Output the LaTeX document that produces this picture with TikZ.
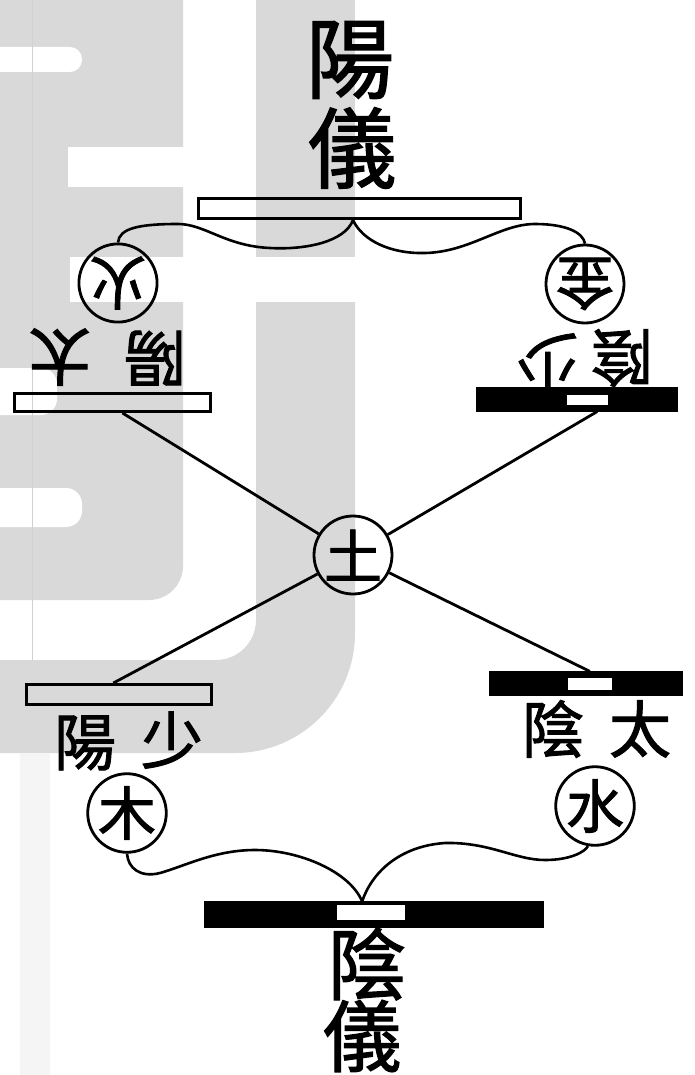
\documentclass[tikz,border=0pt]{standalone}
\usepackage{fontspec}
\usepackage{graphicx}
\newfontfamily\cjk{Noto Sans CJK TC}[FakeBold=1.6]
\usetikzlibrary{calc}
\begin{document}
\begin{tikzpicture}[x=0.5pt,y=-0.5pt,
  wm/.style={fill=black!15,draw=none},
  wmcut/.style={fill=white,draw=none},
  wbar/.style={draw=black,line width=1.5pt,fill=none,inner sep=0pt,rectangle},
  bbar/.style={fill=black,draw=black,line width=0.6pt,inner sep=0pt,rectangle},
  gapbox/.style={fill=white,draw=none,inner sep=0pt,rectangle},
  elem/.style={draw=black,line width=1.4pt,circle,minimum size=39pt,inner sep=0pt,font=\cjk\fontsize{29}{29}\selectfont},
  lbl/.style={font=\cjk\fontsize{31}{31}\selectfont,inner sep=0pt},
  ttl/.style={font=\cjk\fontsize{44}{44}\selectfont,inner sep=0pt},
  ttlb/.style={font=\cjk\fontsize{39}{39}\selectfont,inner sep=0pt},
  link/.style={line width=1.4pt},
  curve/.style={line width=1.3pt},
]
\useasboundingbox (0,0) rectangle (695,1075);
\fill[white] (0,0) rectangle (695,1075);
% watermark
\begin{scope}
\clip (0,0) rectangle (695,1075);
\fill[wm, rounded corners=17pt] (-60,-60) rectangle (183,600);
\fill[wm] (256,-10) rectangle (355,257);
\fill[wm] (256,302) -- (355,302) -- (355,633) arc[start angle=0,end angle=90,radius=120] -- (-10,753) -- (-10,660) -- (216,660) arc[start angle=90,end angle=0,radius=40] -- cycle;
\fill[wmcut, rounded corners=6pt] (-30,47) rectangle (82,72);
\fill[wmcut] (68,147) rectangle (256,187);
\fill[wmcut] (70,257) rectangle (256,302);
\fill[wmcut, rounded corners=8pt] (-30,368) rectangle (57,415);
\fill[wmcut, rounded corners=8pt] (-30,488) rectangle (82,527);
\fill[black!4] (20,753) rectangle (50,1075);
\draw[black!18, line width=0.5pt] (32,0) -- (32,660);
\end{scope}

% titles
\node[ttl] (yang1) at (350,60) {陽};
\node[ttl] (yang2) at (352,148) {儀};
\node[ttlb] (yin1) at (367,964) {陰};
\node[ttlb] (yin2) at (362,1036) {儀};

% bars
\node[wbar, minimum width=161pt, minimum height=10pt] (bigyang) at (359.5,208.5) {};
\node[wbar, minimum width=98pt, minimum height=9pt] (tlbar) at (112.5,402.5) {};
\node[wbar, minimum width=92.5pt, minimum height=10pt] (llbar) at (119,694.5) {};
\node[bbar, minimum width=100pt, minimum height=11.5pt] (trbar) at (577,399.5) {};
\node[gapbox, minimum width=20.5pt, minimum height=5pt] (trgap) at (587.5,400) {};
\node[bbar, minimum width=96pt, minimum height=11.5pt] (lrbar) at (586,683.5) {};
\node[gapbox, minimum width=22pt, minimum height=6pt] (lrgap) at (590,684) {};
\node[bbar, minimum width=169pt, minimum height=12.5pt] (bigyin) at (374,914.5) {};
\node[gapbox, minimum width=34pt, minimum height=7.5pt] (bigyingap) at (371,912.5) {};

% element circles
\node[elem] (fire) at (118,283) {\rotatebox{180}{火}};
\node[elem] (metal) at (585,284) {\rotatebox{180}{金}};
\node[elem] (earth) at (353,555) {土};
\node[elem] (wood) at (127,813) {木};
\node[elem] (water) at (595,806) {水};

% labels
\node[lbl] (tlA) at (60,357) {\rotatebox{180}{太}};
\node[lbl] (tlB) at (155,358) {\rotatebox{180}{陽}};
\node[lbl] (trA) at (547,362) {\rotatebox{180}{少}};
\node[lbl] (trB) at (622,358) {\rotatebox{180}{陰}};
\node[lbl] (llA) at (85,743) {陽};
\node[lbl] (llB) at (172,740) {少};
\node[lbl] (lrA) at (553,729) {陰};
\node[lbl] (lrB) at (640,729) {太};

% connection points
\coordinate (yangJ) at ($(bigyang.south west)!0.48!(bigyang.south east)$);
\coordinate (yinJ) at ($(bigyin.north west)!0.465!(bigyin.north east)$);
\coordinate (tlFoot) at ($(tlbar.south west)!0.55!(tlbar.south east)$);
\coordinate (trFoot) at ($(trbar.south west)!0.6!(trbar.south east)$);
\coordinate (llTop) at ($(llbar.north west)!0.47!(llbar.north east)$);
\coordinate (lrTop) at ($(lrbar.north west)!0.52!(lrbar.north east)$);

% curves
\draw[curve] (yangJ) .. controls (345,242) and (305,250) .. (270,248) .. controls (225,246) and (205,224) .. (178,224) .. controls (140,224) and (119,228) .. (fire.north);
\draw[curve] (yangJ) .. controls (362,240) and (390,254) .. (425,253) .. controls (470,252) and (500,224) .. (535,224) .. controls (565,224) and (583,232) .. (metal.north);
\draw[curve] (yinJ) .. controls (350,872) and (300,850) .. (255,850) .. controls (215,850) and (185,866) .. (160,873) .. controls (140,878) and (128,868) .. (wood.south);
\draw[curve] (yinJ) .. controls (372,872) and (400,846) .. (445,843) .. controls (490,842) and (515,860) .. (545,860) .. controls (570,860) and (585,852) .. (water.-100);

% X lines
\draw[link] (tlFoot) -- (earth);
\draw[link] (earth) -- (lrTop);
\draw[link] (trFoot) -- (earth);
\draw[link] (earth) -- (llTop);
\end{tikzpicture}
\end{document}
